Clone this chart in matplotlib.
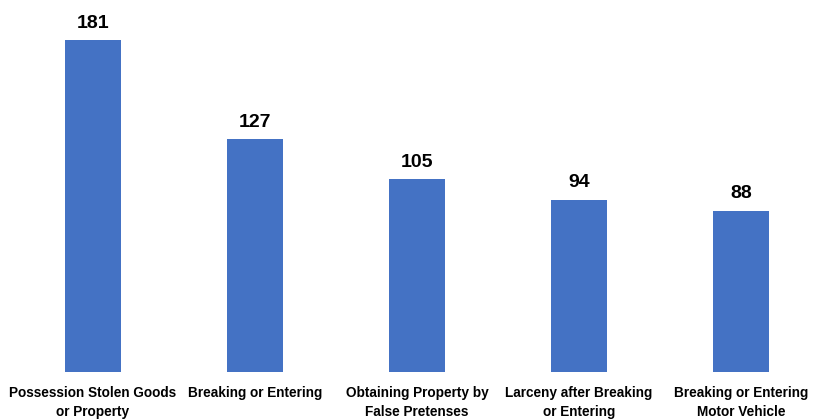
import matplotlib.pyplot as plt

categories = ['Possession Stolen Goods\nor Property', 'Breaking or Entering',
              'Obtaining Property by\nFalse Pretenses', 'Larceny after Breaking\nor Entering',
              'Breaking or Entering\nMotor Vehicle']
counts = [181, 127, 105, 94, 88]

plt.rcParams['font.family'] = ['Liberation Sans', 'DejaVu Sans']

fig = plt.figure(figsize=(8.26, 4.2), dpi=100)
ax = fig.add_axes([12 / 826, 48 / 420, 810 / 826, 372 / 420])

x = range(len(categories))
bars = ax.bar(x, counts, width=0.345, color='#4472C4')

for bar in bars:
    h = bar.get_height()
    ax.annotate(f'{h:.0f}', xy=(bar.get_x() + bar.get_width() / 2, h),
                xytext=(0, 6), textcoords='offset points',
                ha='center', va='bottom', fontsize=14, fontweight='bold')

ax.set_xlim(-0.5, 4.5)
ax.set_ylim(0, 202.8)
ax.set_xticks(list(x))
ax.set_xticklabels(categories, fontsize=9.8, fontweight='bold', linespacing=1.5)
ax.tick_params(axis='x', length=0, pad=10)
ax.set_yticks([])
for s in ax.spines.values():
    s.set_visible(False)

fig.savefig('out.png', dpi=100)
